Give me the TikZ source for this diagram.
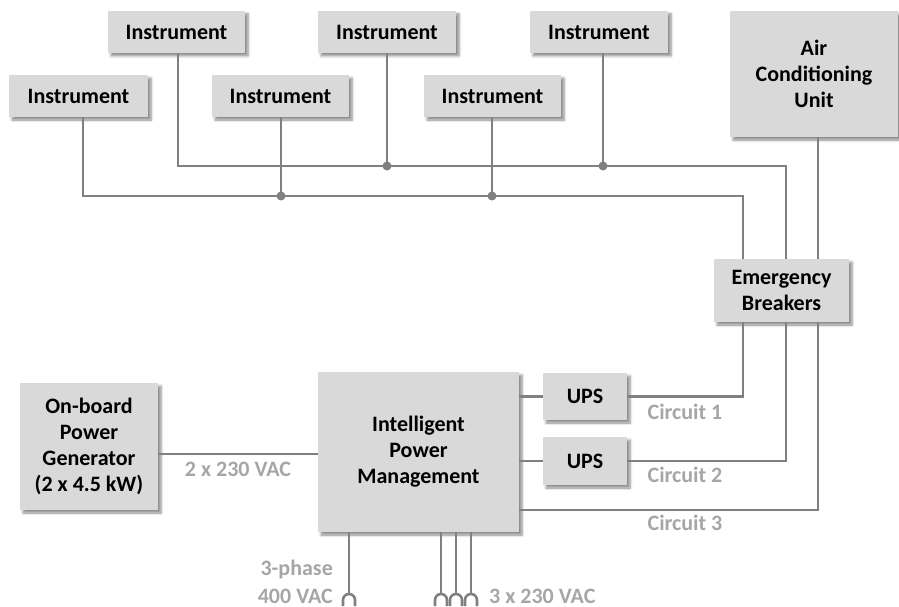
\documentclass[tikz,border=0pt]{standalone}
\usepackage{fontspec}
\setmainfont{Carlito}
\usetikzlibrary{shadows.blur}
\definecolor{boxfill}{HTML}{D9D9D9}
\definecolor{wirecol}{HTML}{808080}
\definecolor{labelcol}{HTML}{A6A6A6}
\tikzset{
  unit/.style={fill=boxfill, draw=none, inner sep=2pt, align=center,
    font=\fontsize{22}{26}\selectfont\bfseries,
    blur shadow={shadow xshift=3pt, shadow yshift=-3pt, shadow blur steps=6,
      shadow blur radius=2.5pt, shadow opacity=45}},
  wire/.style={draw=wirecol, line width=2.6pt},
  junction/.style={circle, fill=wirecol, inner sep=0pt, minimum size=9pt},
  tag/.style={text=labelcol, font=\fontsize{22}{28}\selectfont\bfseries, inner sep=0pt},
}
\begin{document}
\begin{tikzpicture}[x=1pt, y=-1pt]
\useasboundingbox (0,0) rectangle (899,607);

% instruments
\node[unit, minimum width=139pt, minimum height=42pt] (I1) at (78.5,96) {Instrument};
\node[unit, minimum width=137pt, minimum height=42pt] (I2) at (176.5,32) {Instrument};
\node[unit, minimum width=137pt, minimum height=42pt] (I3) at (280.5,96) {Instrument};
\node[unit, minimum width=138pt, minimum height=42pt] (I4) at (387,32) {Instrument};
\node[unit, minimum width=137pt, minimum height=42pt] (I5) at (492.5,96) {Instrument};
\node[unit, minimum width=138pt, minimum height=42pt] (I6) at (599,32) {Instrument};

% other units
\node[unit, minimum width=168pt, minimum height=126pt] (AC) at (814,74) {Air\\Conditioning\\Unit};
\node[unit, minimum width=135pt, minimum height=63pt] (EB) at (781.5,290.5) {Emergency\\Breakers};
\node[unit, minimum width=84pt, minimum height=47pt] (U1) at (585,396.5) {UPS};
\node[unit, minimum width=84pt, minimum height=48pt] (U2) at (585,461) {UPS};
\node[unit, minimum width=201pt, minimum height=160pt] (IPM) at (418.5,452) {Intelligent\\Power\\Management};
\node[unit, minimum width=138pt, minimum height=127pt] (GEN) at (89,446.5) {On-board\\Power\\Generator\\(2 x 4.5 kW)};

% bus points
\coordinate (j1) at (83,196);
\coordinate (j3) at (281,196);
\coordinate (j5) at (492,196);
\coordinate (bB) at (743,196);
\coordinate (j2) at (178,166);
\coordinate (j4) at (387,166);
\coordinate (j6) at (603,166);
\coordinate (bT) at (786,166);
\coordinate (c3) at (818,510);
\coordinate (gy) at (0,454);

% instrument buses
\draw[wire] (I1.south -| j1) -- (j1) -- (bB) -- (EB.north -| bB);
\draw[wire] (I3.south -| j3) -- (j3);
\draw[wire] (I5.south -| j5) -- (j5);
\draw[wire] (I2.south -| j2) -- (j2) -- (bT) -- (EB.north -| bT);
\draw[wire] (I4.south -| j4) -- (j4);
\draw[wire] (I6.south -| j6) -- (j6);
\node[junction] at (j3) {};
\node[junction] at (j5) {};
\node[junction] at (j4) {};
\node[junction] at (j6) {};

% air conditioning feed
\draw[wire] (AC.south -| c3) -- (EB.north -| c3);

% circuits
\draw[wire] (U1.west -| IPM.east) -- (U1.west);
\draw[wire] (U2.west -| IPM.east) -- (U2.west);
\draw[wire] (U1.east) -| (EB.south -| bB);
\draw[wire] (U2.east) -| (EB.south -| bT);
\draw[wire] (IPM.east |- c3) -- (c3) -- (EB.south -| c3);
\node[tag] at (685,412) {Circuit 1};
\node[tag] at (685,475) {Circuit 2};
\node[tag] at (685,523) {Circuit 3};

% generator
\draw[wire] (GEN.east |- gy) -- (IPM.west |- gy);
\node[tag] at (238,469) {2 x 230 VAC};

% mains inlets, each ending in a plug hook
\foreach \px/\nm in {349/p0, 441/p1, 456/p2, 471/p3}{
  \coordinate (\nm) at (\px,594);
  \draw[wire] (IPM.south -| \nm) -- (\nm);
  \draw[wire] (\px-6,606) -- (\px-6,600) arc[start angle=180, end angle=0, radius=6pt] -- (\px+6,606);
}
\node[tag, anchor=east] at (333,570) {3-phase};
\node[tag, anchor=east] at (333,596) {400 VAC};
\node[tag, anchor=west] at (489,596) {3 x 230 VAC};
\end{tikzpicture}
\end{document}
